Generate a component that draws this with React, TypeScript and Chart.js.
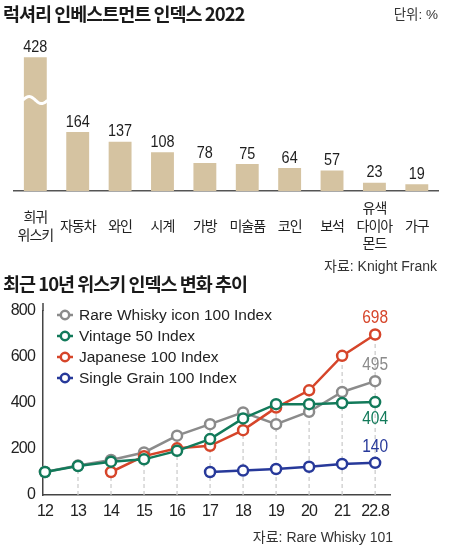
import React, { useEffect, useRef } from "react";
import { Chart, registerables } from "chart.js";

Chart.register(...registerables);

// ---------- Data: luxury investment index 2022 ----------
const luxuryCategories: (string | string[])[] = [
  ["희귀", "위스키"],
  "자동차",
  "와인",
  "시계",
  "가방",
  "미술품",
  "코인",
  "보석",
  ["유색", "다이아", "몬드"],
  "가구",
];
const luxuryValues = [428, 164, 137, 108, 78, 75, 64, 57, 23, 19];
// the first bar is drawn broken (shortened) in the reference
const brokenBarShown = 372;

// ---------- Data: whisky indexes, last 10 years ----------
const years = ["12", "13", "14", "15", "16", "17", "18", "19", "20", "21", "22.8"];
const rareWhiskyIcon = [100, 128, 152, 185, 258, 308, 359, 308, 362, 448, 495];
const vintage50 = [100, 126, 145, 155, 192, 243, 333, 395, 395, 400, 404];
const japanese100 = [null, null, 100, 169, 203, 214, 282, 380, 455, 605, 698];
const singleGrain100 = [null, null, null, null, null, 100, 106, 113, 123, 135, 140];
const yTicks = [0, 200, 400, 600, 800];

const NUM_FONT = '"Liberation Sans", Arial, sans-serif';
const TXT_FONT = '"Liberation Sans", "Noto Sans CJK KR", sans-serif';
const KR_FONT = '"Noto Sans CJK KR", "Liberation Sans", sans-serif';

const series = [
  { label: "Rare Whisky icon 100 Index", data: rareWhiskyIcon, color: "#8b8b8b", end: "above", order: 3 },
  { label: "Vintage 50 Index", data: vintage50, color: "#127a5a", end: "below", order: 1 },
  { label: "Japanese 100 Index", data: japanese100, color: "#d6452a", end: "above", order: 2 },
  { label: "Single Grain 100 Index", data: singleGrain100, color: "#27399a", end: "above", order: 0 },
];

// draws horizontally condensed text centred at (x, y)
function condensedText(ctx: CanvasRenderingContext2D, text: string, x: number, y: number, sx: number) {
  ctx.save();
  ctx.translate(x, y);
  ctx.scale(sx, 1);
  ctx.fillText(text, 0, 0);
  ctx.restore();
}

function LuxuryChart() {
  const ref = useRef<HTMLCanvasElement>(null);
  useEffect(() => {
    const shown = luxuryValues.map((v, i) => (i === 0 ? brokenBarShown : v));
    const labelPlugin = {
      id: "barLabels",
      beforeUpdate(chart: any) {
        chart.ctx.letterSpacing = "-1px";
      },
      beforeDraw(chart: any) {
        chart.ctx.letterSpacing = "-1px";
      },
      afterDatasetsDraw(chart: any) {
        const ctx = chart.ctx;
        const meta = chart.getDatasetMeta(0);
        ctx.save();
        // wavy break on first bar
        const b0 = meta.data[0];
        const left = b0.x - b0.width / 2 - 1;
        const right = b0.x + b0.width / 2 + 1;
        const yc = b0.base - (b0.base - b0.y) * 0.68;
        ctx.strokeStyle = "#ffffff";
        ctx.lineWidth = 3;
        ctx.beginPath();
        for (let x = left; x <= right + 0.01; x += 0.5) {
          const t = (x - left) / (right - left);
          const y = yc - 3.5 * Math.sin(t * Math.PI * 2);
          if (x === left) ctx.moveTo(x, y);
          else ctx.lineTo(x, y);
        }
        ctx.stroke();
        // value labels
        ctx.letterSpacing = "0px";
        ctx.fillStyle = "#1e1e1e";
        ctx.font = `17px ${NUM_FONT}`;
        ctx.textAlign = "center";
        ctx.textBaseline = "middle";
        meta.data.forEach((el: any, i: number) => {
          condensedText(ctx, String(luxuryValues[i]), el.x, el.y - 10, 0.85);
        });
        ctx.restore();
      },
    };
    const chart = new Chart(ref.current!, {
      type: "bar",
      data: {
        labels: luxuryCategories as any,
        datasets: [
          {
            data: shown,
            backgroundColor: "#d5c3a1",
            categoryPercentage: 1,
            barPercentage: 0.54,
          },
        ],
      },
      options: {
        animation: false,
        responsive: false,
        layout: { padding: { top: 40, left: 10, right: 14, bottom: 0 } },
        plugins: { legend: { display: false }, tooltip: { enabled: false } },
        scales: {
          x: {
            grid: { display: false, drawTicks: false },
            border: { display: true, color: "#555", width: 1.5 },
            ticks: {
              autoSkip: false,
              maxRotation: 0,
              minRotation: 0,
              padding: 17,
              crossAlign: "center",
              color: "#222",
              font: { family: KR_FONT, size: 14, lineHeight: 1.25 },
            },
            afterFit: (s: any) => {
              s.height = 69;
            },
          },
          y: { display: false, min: 0, max: 420 },
        },
      } as any,
      plugins: [labelPlugin],
    });
    return () => chart.destroy();
  }, []);
  return (
    <canvas
      ref={ref}
      width={452}
      height={260}
      style={{ position: "absolute", left: 0, top: 0, width: 452, height: 260 }}
    />
  );
}

function WhiskyChart() {
  const ref = useRef<HTMLCanvasElement>(null);
  useEffect(() => {
    const guidePlugin = {
      id: "guides",
      beforeUpdate(chart: any) {
        chart.ctx.letterSpacing = "-0.8px";
      },
      beforeDraw(chart: any) {
        chart.ctx.letterSpacing = "-0.8px";
      },
      beforeDatasetsDraw(chart: any) {
        const ctx = chart.ctx;
        const xs = chart.scales.x;
        const ys = chart.scales.y;
        ctx.save();
        ctx.strokeStyle = "#c9c9c9";
        ctx.lineWidth = 1.2;
        ctx.setLineDash([4, 3]);
        for (let i = 1; i < years.length; i++) {
          const vals = series.map((s) => s.data[i]).filter((v) => v != null) as number[];
          if (!vals.length) continue;
          const top = Math.max(...vals);
          const x = xs.getPixelForValue(i);
          ctx.beginPath();
          ctx.moveTo(x, chart.chartArea.bottom);
          ctx.lineTo(x, ys.getPixelForValue(top));
          ctx.stroke();
        }
        ctx.restore();
        // small extension of the y axis line above the top tick
        ctx.save();
        ctx.strokeStyle = "#444";
        ctx.lineWidth = 1.5;
        ctx.beginPath();
        ctx.moveTo(chart.chartArea.left, chart.chartArea.top);
        ctx.lineTo(chart.chartArea.left, chart.chartArea.top - 8);
        ctx.stroke();
        ctx.restore();
      },
      afterDatasetsDraw(chart: any) {
        const ctx = chart.ctx;
        ctx.save();
        // end labels
        ctx.letterSpacing = "0px";
        ctx.font = `18px ${NUM_FONT}`;
        ctx.textAlign = "center";
        ctx.textBaseline = "middle";
        chart.data.datasets.forEach((ds: any, di: number) => {
          const meta = chart.getDatasetMeta(di);
          const last = meta.data[meta.data.length - 1];
          const s = series[di];
          const v = s.data[s.data.length - 1];
          ctx.fillStyle = s.color;
          condensedText(ctx, String(v), last.x, s.end === "above" ? last.y - 16 : last.y + 17, 0.86);
        });
        // legend
        const rows = [25, 46, 67, 88];
        series.forEach((s, i) => {
          const y = rows[i];
          ctx.strokeStyle = s.color;
          ctx.lineWidth = 2.5;
          ctx.beginPath();
          ctx.moveTo(57, y);
          ctx.lineTo(73, y);
          ctx.stroke();
          ctx.beginPath();
          ctx.arc(65, y, 4.2, 0, Math.PI * 2);
          ctx.fillStyle = "#fff";
          ctx.fill();
          ctx.stroke();
          ctx.fillStyle = "#222";
          ctx.font = `15.5px ${TXT_FONT}`;
          ctx.textAlign = "left";
          ctx.textBaseline = "middle";
          ctx.fillText(s.label, 79, y + 1);
        });
        ctx.restore();
      },
    };
    const chart = new Chart(ref.current!, {
      type: "line",
      data: {
        datasets: series.map((s) => ({
          label: s.label,
          data: s.data
            .map((v, i) => (v == null ? null : { x: i, y: v }))
            .filter((p) => p != null) as any,
          borderColor: s.color,
          borderWidth: 2.5,
          pointRadius: 5,
          pointBorderWidth: 2.5,
          pointBackgroundColor: "#ffffff",
          pointBorderColor: s.color,
          tension: 0,
          order: s.order,
          clip: false as any,
        })),
      },
      options: {
        animation: false,
        responsive: false,
        layout: { padding: { top: 21, left: 0, right: 62, bottom: 0 } },
        plugins: { legend: { display: false }, tooltip: { enabled: false } },
        scales: {
          x: {
            type: "linear",
            min: -0.06,
            max: 10.45,
            grid: { display: false, drawTicks: false },
            border: { display: true, color: "#444", width: 1.5 },
            afterBuildTicks: (s: any) => {
              s.ticks = years.map((_, i) => ({ value: i }));
            },
            ticks: {
              autoSkip: false,
              maxRotation: 0,
              minRotation: 0,
              padding: 7,
              color: "#222",
              font: { family: NUM_FONT, size: 16 },
              callback: (v: any) => years[v] ?? "",
            },
            afterFit: (s: any) => {
              s.height = 35;
            },
          },
          y: {
            min: 0,
            max: 800,
            grid: { display: false, drawTicks: false },
            border: { display: true, color: "#444", width: 1.5 },
            afterBuildTicks: (s: any) => {
              s.ticks = yTicks.map((v) => ({ value: v }));
            },
            ticks: {
              padding: 8,
              color: "#222",
              font: { family: NUM_FONT, size: 16 },
            },
            afterFit: (s: any) => {
              s.width = 43;
            },
          },
        },
      } as any,
      plugins: [guidePlugin],
    });
    return () => chart.destroy();
  }, []);
  return (
    <canvas
      ref={ref}
      width={452}
      height={240}
      style={{ position: "absolute", left: 0, top: 290, width: 452, height: 240 }}
    />
  );
}

function Txt(props: {
  children: React.ReactNode;
  left?: number;
  right?: number;
  cy: number;
  size: number;
  bold?: boolean;
  spacing?: number;
  color?: string;
}) {
  const lh = 24;
  const style: React.CSSProperties = {
    position: "absolute",
    top: props.cy - lh / 2,
    lineHeight: `${lh}px`,
    fontSize: props.size,
    fontWeight: props.bold ? 700 : 400,
    fontFamily: props.bold ? KR_FONT : TXT_FONT,
    letterSpacing: props.spacing ?? 0,
    color: props.color ?? "#222",
    whiteSpace: "nowrap",
  };
  if (props.left != null) style.left = props.left;
  if (props.right != null) style.right = props.right;
  return <div style={style}>{props.children}</div>;
}

export default function App() {
  return (
    <div
      style={{
        position: "absolute",
        left: 0,
        top: 0,
        width: 452,
        height: 550,
        background: "#fff",
        overflow: "hidden",
      }}
    >
      <LuxuryChart />
      <WhiskyChart />
      <Txt left={3} cy={13} size={18.5} bold spacing={-1} color="#1a1a1a">
        럭셔리 인베스트먼트 인덱스 2022
      </Txt>
      <Txt right={452 - 438} cy={15} size={13.5} color="#333">
        단위: %
      </Txt>
      <Txt right={452 - 437} cy={266} size={14} color="#333">
        자료: Knight Frank
      </Txt>
      <Txt left={3} cy={283} size={18.5} bold spacing={-1} color="#1a1a1a">
        최근 10년 위스키 인덱스 변화 추이
      </Txt>
      <Txt right={452 - 393} cy={537} size={14} color="#333">
        자료: Rare Whisky 101
      </Txt>
    </div>
  );
}
